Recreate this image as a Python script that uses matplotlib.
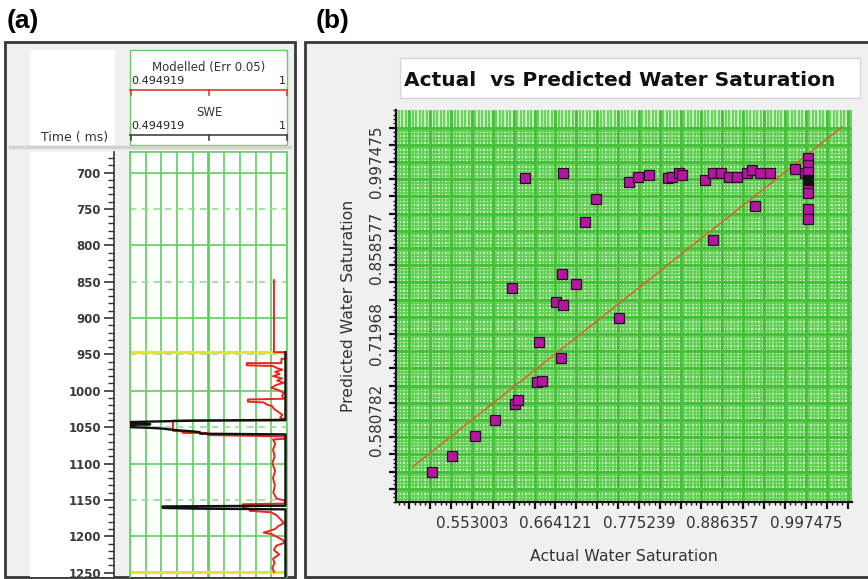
import numpy as np
import matplotlib
matplotlib.use("Agg")
import matplotlib.pyplot as plt
from matplotlib.patches import Rectangle
from matplotlib.lines import Line2D
from matplotlib.ticker import MultipleLocator, AutoMinorLocator

# ---- well log track (a) ----
scale_min, scale_max = 0.494919, 1.0
depth_labels = [700, 750, 800, 850, 900, 950, 1000, 1050, 1100, 1150, 1200, 1250]
horizons = [947, 1249]

# modelled Sw (red)
red_depth = [848, 947, 947, 956, 956, 962, 962, 965, 966, 969, 971, 974, 977, 980,
             983, 986, 989, 992, 996, 999, 1003, 1007, 1011, 1012, 1015, 1016, 1019,
             1021, 1025, 1029, 1033, 1037, 1040, 1041, 1041, 1055, 1056, 1058, 1058,
             1061, 1062, 1063, 1066, 1067, 1073, 1081, 1090, 1100, 1110, 1120, 1130,
             1140, 1148, 1151, 1155, 1156, 1161, 1162, 1165, 1167, 1171, 1177, 1182,
             1186, 1190, 1195, 1197, 1201, 1205, 1209, 1213, 1219, 1225, 1231, 1237,
             1243, 1249]
red_val = [0.958, 0.958, 0.996, 0.996, 0.982, 0.982, 0.870, 0.870, 0.955, 0.968, 0.986,
           0.962, 0.976, 0.955, 0.984, 0.968, 0.990, 0.965, 0.950, 0.972, 0.990, 0.984,
           0.990, 0.874, 0.874, 0.925, 0.935, 0.952, 0.958, 0.972, 0.985, 0.978, 0.995,
           0.995, 0.633, 0.633, 0.665, 0.665, 0.745, 0.745, 0.900, 0.995, 0.995, 0.955,
           0.962, 0.955, 0.960, 0.953, 0.962, 0.955, 0.961, 0.956, 0.966, 0.993, 0.993,
           0.858, 0.858, 0.880, 0.880, 0.948, 0.966, 0.980, 0.990, 0.972, 0.962, 0.925,
           0.950, 0.968, 0.986, 0.992, 0.965, 0.958, 0.975, 0.955, 0.960, 0.953, 0.958]

# SWE (black)
black_depth = [947, 1040, 1041, 1042, 1043, 1045, 1046, 1047, 1050, 1051, 1052, 1054,
               1056, 1057, 1059, 1060, 1158, 1159, 1161, 1162, 1163, 1257]
black_val = [0.995, 0.995, 0.700, 0.600, 0.495, 0.495, 0.560, 0.495, 0.495, 0.560,
             0.600, 0.640, 0.700, 0.720, 0.720, 0.995, 0.995, 0.600, 0.600, 0.700,
             0.995, 0.995]

# ---- crossplot (b) ----
actual = [0.4991, 0.5266, 0.5570, 0.5831, 0.6101, 0.6149, 0.6390, 0.6467, 0.6419,
          0.6718, 0.6646, 0.6742, 0.6063, 0.6723, 0.6916, 0.7485, 0.7029, 0.7186,
          0.8739, 0.6241, 0.6747, 0.7620, 0.7737, 0.7885, 0.8146, 0.8194, 0.8281,
          0.8329, 0.8634, 0.8739, 0.8851, 0.8956, 0.9053, 0.9188, 0.9261, 0.9366,
          0.9502, 0.9826, 0.9960, 0.9294, 1.0, 1.0, 1.0, 1.0, 1.0, 1.0, 1.0]
predicted = [0.4962, 0.5230, 0.5553, 0.5807, 0.6065, 0.6130, 0.6421, 0.6442, 0.7062,
             0.6813, 0.7708, 0.7660, 0.7935, 0.8166, 0.8004, 0.7460, 0.9010, 0.9377,
             0.8715, 0.9721, 0.9802, 0.9657, 0.9728, 0.9765, 0.9721, 0.9737, 0.9802,
             0.9765, 0.9689, 0.9802, 0.9802, 0.9728, 0.9728, 0.9802, 0.9846, 0.9802,
             0.9802, 0.9857, 0.9802, 0.9264, 1.0040, 0.9927, 0.9813, 0.9571, 0.9474,
             0.9216, 0.9054]
stacked_actual = [1.0]
stacked_pred = [0.9684]
fit_x = [0.4743, 1.0456]
fit_y = [0.5053, 1.0540]

x_labels = ["0.553003", "0.664121", "0.775239", "0.886357", "0.997475"]
y_labels = ["0.997475", "0.858577", "0.71968", "0.580782"]
tick_step = 0.0277795

W, H = 868, 579
fig = plt.figure(figsize=(8.68, 5.79), dpi=100)


def fbox(x0, y0, x1, y1):
    return [x0 / W, 1 - y1 / H, (x1 - x0) / W, (y1 - y0) / H]


def frect(x0, y0, x1, y1, fc, ec="none", lw=0, z=-1):
    fig.add_artist(Rectangle((x0 / W, 1 - y1 / H), (x1 - x0) / W, (y1 - y0) / H,
                             transform=fig.transFigure, facecolor=fc,
                             edgecolor=ec, linewidth=lw, zorder=z))


def fline(xs, ys, **kw):
    fig.add_artist(Line2D([x / W for x in xs], [1 - y / H for y in ys],
                          transform=fig.transFigure, **kw))


def ftext(x, y, s, **kw):
    fig.text(x / W, 1 - y / H, s, **kw)


# panel frames
frect(5, 42, 295, 577, "#f0f0f0", "#383838", 2, z=-3)
frect(305, 42, 880, 577, "#f0f0f0", "#383838", 2, z=-3)
ftext(7, 21, "(a)", fontsize=19, fontweight="bold", family="Liberation Sans",
      va="center", ha="left")
ftext(316, 21, "(b)", fontsize=19, fontweight="bold", family="Liberation Sans",
      va="center", ha="left")

# log header
frect(30, 50, 115, 145, "white")
frect(130, 50, 287, 145, "white", "#66cc66", 1)
fline([10, 290], [147.5, 147.5], color="#d2d2d2", lw=2.5)
frect(30, 152, 115, 577, "white")

ftext(209, 67, "Modelled (Err 0.05)", ha="center", va="center", fontsize=8.5, color="#333333")
ftext(131, 81, "0.494919", ha="left", va="center", fontsize=8, color="#222222")
ftext(286, 81, "1", ha="right", va="center", fontsize=8, color="#222222")
ftext(209, 112, "SWE", ha="center", va="center", fontsize=8.5, color="#333333")
ftext(131, 126, "0.494919", ha="left", va="center", fontsize=8, color="#222222")
ftext(286, 126, "1", ha="right", va="center", fontsize=8, color="#222222")
ftext(108, 137, "Time ( ms)", ha="right", va="center", fontsize=9, color="#333333")
for yy, col in ((90, "#e03a30"), (135, "#444444")):
    fline([130, 287], [yy, yy], color=col, lw=1.2)
    for xx in (130.5, 208.5, 286.5):
        fline([xx, xx], [yy, yy + 5], color=col, lw=1.2)

# log track
ax_t = fig.add_axes(fbox(130, 152, 287, 577))
ax_t.set_xlim(scale_min, scale_max)
ax_t.set_ylim(1256, 671.8)
ax_t.set_facecolor("white")
for i, gx in enumerate(np.linspace(scale_min, scale_max, 11)):
    ax_t.axvline(gx, color="#5fd05f", lw=2.0 if i == 5 else 1.2, zorder=1)
for d in depth_labels:
    if d % 100 == 0:
        ax_t.axhline(d, color="#5fd05f", lw=1.2, zorder=1)
    else:
        ax_t.axhline(d, color="#8fe08f", lw=1.2, ls=(0, (4, 3)), zorder=1)
for h in horizons:
    ax_t.axhline(h, color="#e8e22c", lw=2.2, zorder=2)
ax_t.plot(red_val, red_depth, color="#e8261e", lw=1.4, zorder=3)
ax_t.plot(black_val, black_depth, color="#111111", lw=1.7, zorder=4)
ax_t.set_xticks([])
ax_t.set_yticks([])
for s in ax_t.spines.values():
    s.set_color("#5fd05f")
    s.set_linewidth(1.2)
ax_t.spines["bottom"].set_visible(False)

# time axis
ax_d = fig.add_axes(fbox(113.5, 152, 114.5, 577))
ax_d.set_ylim(1256, 671.8)
ax_d.set_xticks([])
for k in ("top", "right", "bottom"):
    ax_d.spines[k].set_visible(False)
ax_d.spines["left"].set_color("#333333")
ax_d.spines["left"].set_linewidth(1.2)
ax_d.set_facecolor("none")
ax_d.set_yticks(depth_labels)
ax_d.set_yticklabels([str(d) for d in depth_labels])
ax_d.yaxis.set_minor_locator(MultipleLocator(10))
ax_d.tick_params(axis="y", which="major", length=7, width=1.2, color="#333333",
                 labelsize=8.5, labelcolor="#3a3a3a", pad=2)
ax_d.tick_params(axis="y", which="minor", length=4, width=1.0, color="#333333")
for lab in ax_d.get_yticklabels():
    lab.set_fontweight("bold")

# crossplot
frect(400, 58, 860, 98, "white", "#d6d6d6", 1)
ftext(404, 80, "Actual  vs Predicted Water Saturation", ha="left", va="center",
      fontsize=14.5, fontweight="bold", color="#111111")

ax = fig.add_axes(fbox(396, 110, 852, 502))
xmin, xmax = 0.4518, 1.059
ymin, ymax = 0.4482, 1.0815
ax.set_xlim(xmin, xmax)
ax.set_ylim(ymin, ymax)
ax.set_facecolor("#c4eebc")

x_major = 0.553003 + tick_step * np.arange(-3, 19)
y_major = 0.997475 + tick_step * np.arange(-19, 3)
x_fine = 0.553003 + tick_step / 6 * np.arange(-24, 114)
y_fine = 0.997475 + tick_step / 5 * np.arange(-100, 12)
x_fine = x_fine[(x_fine > xmin) & (x_fine < xmax)]
y_fine = y_fine[(y_fine > ymin) & (y_fine < 1.058)]
ax.vlines(x_fine, ymin, ymax, color="#62cf55", lw=1.3, zorder=1)
ax.hlines(y_fine, xmin, xmax, color="#62cf55", lw=1.3, zorder=1)
ax.vlines(x_major, ymin, ymax, color="#46bf38", lw=2.0, zorder=1)
ax.hlines(y_major, xmin, xmax, color="#46bf38", lw=2.0, zorder=1)

ax.plot(fit_x, fit_y, color="#d8642c", lw=1.1, zorder=3)
ax.plot(actual, predicted, "s", ls="none", ms=7.6, mfc="#b3179f", mec="#2a1026",
        mew=0.9, zorder=4)
ax.plot(stacked_actual, stacked_pred, "s", ls="none", ms=7.6, mfc="#111111",
        mec="#111111", mew=0.9, zorder=5)

ax.set_xticks(x_major)
ax.set_xticklabels([x_labels[(i - 3) // 4] if (i - 3) % 4 == 0 and 0 <= (i - 3) // 4 < 5 else ""
                    for i in range(len(x_major))])
ax.set_yticks(y_major)
ax.set_yticklabels([y_labels[(19 - i) // 5] if (19 - i) % 5 == 0 and 0 <= (19 - i) // 5 < 4 else ""
                    for i in range(len(y_major))], rotation=90, va="center")
ax.xaxis.set_minor_locator(AutoMinorLocator(4))
ax.yaxis.set_minor_locator(AutoMinorLocator(4))
ax.tick_params(which="major", length=5, width=1.6, color="#111111", labelsize=11,
               labelcolor="#333333")
ax.tick_params(axis="x", which="major", pad=5)
ax.tick_params(axis="y", which="major", pad=4)
ax.tick_params(which="minor", length=2.5, width=1.0, color="#111111")
ax.set_xlabel("Actual Water Saturation", fontsize=11.3, color="#333333", labelpad=13)
ax.set_ylabel("Predicted Water Saturation", fontsize=11.3, color="#333333", labelpad=9)
for k in ("top", "right"):
    ax.spines[k].set_visible(False)
for k in ("left", "bottom"):
    ax.spines[k].set_color("#111111")
    ax.spines[k].set_linewidth(1.6)

fig.savefig("out.png", dpi=100)
